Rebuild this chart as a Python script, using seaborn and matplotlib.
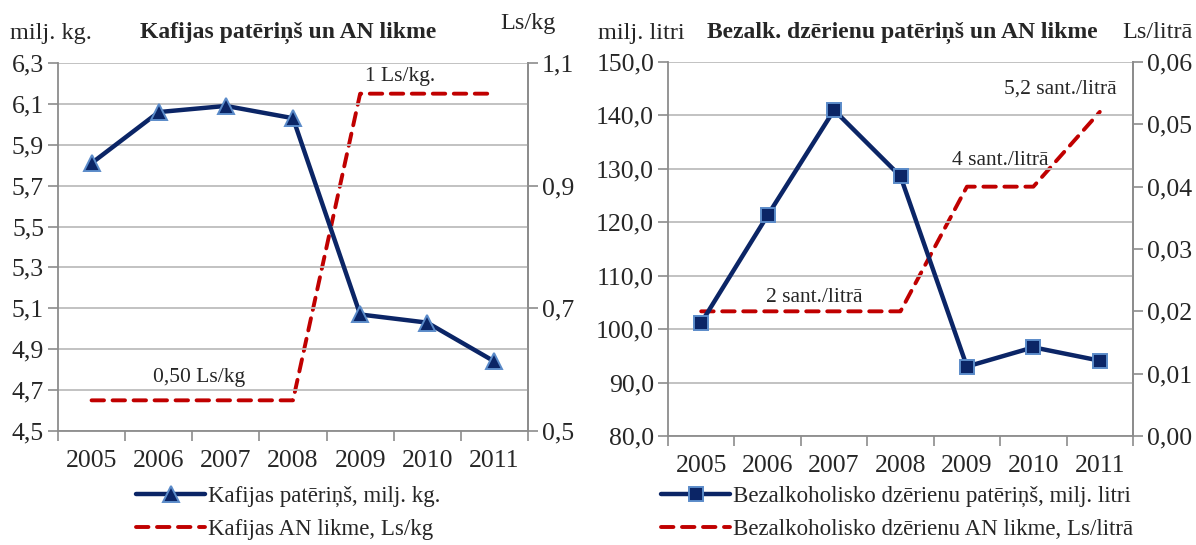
import numpy as np
import pandas as pd
import seaborn as sns
import matplotlib.pyplot as plt
from matplotlib.ticker import FuncFormatter, FixedLocator
from matplotlib.lines import Line2D

# data
years = ['2005', '2006', '2007', '2008', '2009', '2010', '2011']
coffee_use = [5.81, 6.06, 6.09, 6.03, 5.07, 5.03, 4.84]
coffee_rate = [0.55, 0.55, 0.55, 0.55, 1.05, 1.05, 1.05]
drinks_use = [101.2, 121.3, 141.0, 128.6, 93.0, 96.6, 94.1]
drinks_rate = [0.02, 0.02, 0.02, 0.02, 0.04, 0.04, 0.052]

BLUE = '#0B2566'
EDGE = '#5B8BC9'
RED = '#C00000'
GRID = '#BDBDBD'
SPINE = '#8C8C8C'
TICK_FS = 18.5

sns.set_theme(style="white")
plt.rcParams['font.family'] = ['Liberation Serif', 'DejaVu Serif']
plt.rcParams['axes.unicode_minus'] = False


def comma(fmt):
    return FuncFormatter(lambda v, p: fmt.format(v).replace('.', ','))


def style_axes(ax, ax2, ylim, yticks, yfmt, y2lim, y2ticks, y2fmt):
    n = len(years)
    ax.set_xlim(-0.5, n - 0.5)
    ax.set_ylim(*ylim)
    ax.set_yticks(yticks)
    ax.yaxis.set_major_formatter(comma(yfmt))
    ax.set_xticks(range(n))
    ax.set_xticklabels(years)
    ax.xaxis.set_minor_locator(FixedLocator(np.arange(-0.5, n, 1.0)))
    ax.tick_params(axis='x', which='major', length=0, pad=14, labelsize=TICK_FS)
    ax.tick_params(axis='x', which='minor', length=7, width=1.2, color=SPINE, direction='out', bottom=True)
    ax.tick_params(axis='y', length=7, width=1.2, color=SPINE, direction='out', left=True,
                   labelsize=TICK_FS, pad=3)
    ax.grid(axis='y', color=GRID, linewidth=1.3)
    ax.set_axisbelow(True)
    ax.spines['top'].set_visible(False)
    for s in ['left', 'bottom', 'right']:
        ax.spines[s].set_color(SPINE)
        ax.spines[s].set_linewidth(1.3)
    ax.set_xlabel('')
    ax.set_ylabel('')

    ax2.set_ylim(*y2lim)
    ax2.set_yticks(y2ticks)
    ax2.yaxis.set_major_formatter(comma(y2fmt))
    ax2.tick_params(axis='y', length=7, width=1.2, color=SPINE, direction='out', right=True,
                    labelsize=TICK_FS, pad=3)
    ax2.grid(False)
    for s in ['top', 'left', 'bottom']:
        ax2.spines[s].set_visible(False)
    ax2.spines['right'].set_color(SPINE)
    ax2.spines['right'].set_linewidth(1.3)
    ax2.set_xlabel('')
    ax2.set_ylabel('')


fig = plt.figure(figsize=(11.96, 5.45), dpi=100)
W, H = 1196, 545
ax_l = fig.add_axes([58 / W, 1 - 431 / H, 470 / W, 368 / H])
ax_r = fig.add_axes([668 / W, 1 - 436 / H, 465 / W, 374 / H])

pos = list(range(len(years)))
dash = (0, (3.2, 2.2))

# ----- left: coffee -----
ax_l2 = ax_l.twinx()
sns.lineplot(x=pos, y=coffee_rate, ax=ax_l2, color=RED, linewidth=2.8,
             linestyle=dash, dash_capstyle='round')
sns.lineplot(x=pos, y=coffee_use, ax=ax_l, color=BLUE, linewidth=3.2,
             marker='^', markersize=11, markerfacecolor=BLUE,
             markeredgecolor=EDGE, markeredgewidth=1.4)
ax_l.set_zorder(ax_l2.get_zorder() + 1)
ax_l.patch.set_visible(False)
style_axes(ax_l, ax_l2, (4.5, 6.3), np.arange(4.5, 6.31, 0.2), '{:.1f}',
           (0.5, 1.1), [0.5, 0.7, 0.9, 1.1], '{:.1f}')
ax_l2.text(4.6, 1.078, '1 Ls/kg.', fontsize=15.5, ha='center', va='center')
ax_l2.text(1.6, 0.587, '0,50 Ls/kg', fontsize=15.5, ha='center', va='center')

fig.text(10 / W, 1 - 33 / H, 'milj. kg.', fontsize=17.5, va='center', ha='left')
fig.text(288 / W, 1 - 33 / H, 'Kafijas patēriņš un AN likme', fontsize=17,
         fontweight='bold', va='center', ha='center')
fig.text(500 / W, 1 - 24 / H, 'Ls/kg', fontsize=17.5, va='center', ha='left')

h_l = [Line2D([], [], color=BLUE, linewidth=3.2, marker='^', markersize=11,
              markerfacecolor=BLUE, markeredgecolor=EDGE, markeredgewidth=1.4),
       Line2D([], [], color=RED, linewidth=2.8, linestyle=dash, dash_capstyle='round')]
fig.legend(h_l, ['Kafijas patēriņš, milj. kg.', 'Kafijas AN likme, Ls/kg'],
           loc='center left', bbox_to_anchor=(127 / W, 1 - 513 / H), frameon=False,
           fontsize=16.5, handlelength=3.0, handletextpad=0.15, labelspacing=0.5,
           borderaxespad=0)

# ----- right: soft drinks -----
ax_r2 = ax_r.twinx()
sns.lineplot(x=pos, y=drinks_rate, ax=ax_r2, color=RED, linewidth=2.8,
             linestyle=dash, dash_capstyle='round')
sns.lineplot(x=pos, y=drinks_use, ax=ax_r, color=BLUE, linewidth=3.2,
             marker='s', markersize=10, markerfacecolor=BLUE,
             markeredgecolor=EDGE, markeredgewidth=1.4)
ax_r.set_zorder(ax_r2.get_zorder() + 1)
ax_r.patch.set_visible(False)
style_axes(ax_r, ax_r2, (80, 150), np.arange(80, 150.1, 10), '{:.1f}',
           (0, 0.06), np.arange(0, 0.0601, 0.01), '{:.2f}')
ax_r2.text(5.4, 0.0557, '5,2 sant./litrā', fontsize=15.5, ha='center', va='center')
ax_r2.text(4.5, 0.0442, '4 sant./litrā', fontsize=15.5, ha='center', va='center')
ax_r2.text(1.7, 0.0222, '2 sant./litrā', fontsize=15.5, ha='center', va='center')

fig.text(598 / W, 1 - 33 / H, 'milj. litri', fontsize=17.5, va='center', ha='left')
fig.text(902 / W, 1 - 33 / H, 'Bezalk. dzērienu patēriņš un AN likme', fontsize=17,
         fontweight='bold', va='center', ha='center')
fig.text(1122 / W, 1 - 33 / H, 'Ls/litrā', fontsize=17.5, va='center', ha='left')

h_r = [Line2D([], [], color=BLUE, linewidth=3.2, marker='s', markersize=10,
              markerfacecolor=BLUE, markeredgecolor=EDGE, markeredgewidth=1.4),
       Line2D([], [], color=RED, linewidth=2.8, linestyle=dash, dash_capstyle='round')]
fig.legend(h_r, ['Bezalkoholisko dzērienu patēriņš, milj. litri',
                 'Bezalkoholisko dzērienu AN likme, Ls/litrā'],
           loc='center left', bbox_to_anchor=(652 / W, 1 - 513 / H), frameon=False,
           fontsize=16.5, handlelength=3.0, handletextpad=0.15, labelspacing=0.5,
           borderaxespad=0)

plt.savefig('out.png', dpi=100)
